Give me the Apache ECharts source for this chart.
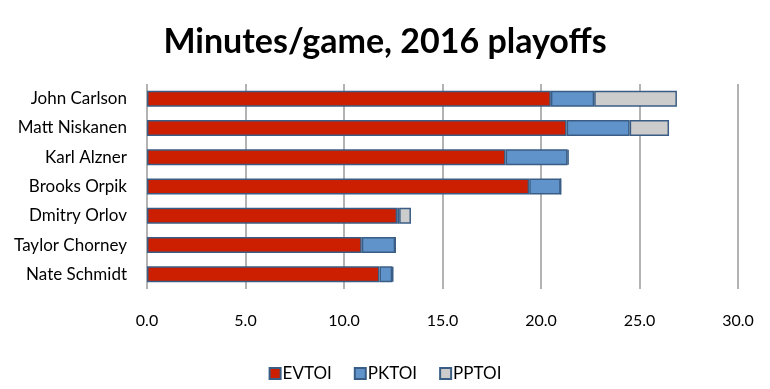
<!DOCTYPE html>
<html><head><meta charset="utf-8">
<script src="https://cdn.jsdelivr.net/npm/echarts@6/dist/echarts.min.js"></script>
<style>html,body{margin:0;padding:0;background:#fff}#c{width:770px;height:389px}</style>
</head><body><div id="c"></div>
<script>
const players = ["John Carlson","Matt Niskanen","Karl Alzner","Brooks Orpik","Dmitry Orlov","Taylor Chorney","Nate Schmidt"];
const evtoi = [20.5, 21.3, 18.2, 19.4, 12.7, 10.9, 11.8];
const pktoi = [2.2, 3.2, 3.15, 1.6, 0.1, 1.7, 0.65];
const pptoi = [4.2, 2.0, 0.05, 0, 0.6, 0, 0.05];
const xTicks = [0, 5, 10, 15, 20, 25, 30];
const seriesNames = ["EVTOI","PKTOI","PPTOI"];
const colors = ["#cc1e00","#5f93c9","#cccccc"];
const font = "Lato, 'Open Sans', sans-serif";
const chart = echarts.init(document.getElementById('c'));
const mk = (name, data, i) => ({
  name, type: 'bar', stack: 'tot', data,
  barWidth: 16,
  itemStyle: {color: colors[i], borderColor: '#3a5d85', borderWidth: 1.5},
  emphasis: {disabled: true}
});
chart.setOption({
  animation: false,
  title: {text: 'Minutes/game, 2016 playoffs', left: 'center', top: 20,
    textStyle: {fontFamily: font, fontSize: 34, fontWeight: 'bold', color: '#000'}},
  legend: {bottom: 2, left: 'center', itemWidth: 11, itemHeight: 11, itemGap: 22,
    icon: 'rect',
    textStyle: {fontFamily: font, fontSize: 17, color: '#000', padding: [0,0,0,-3]},
    data: seriesNames},
  grid: {left: 147, right: 32, top: 84, bottom: 100},
  xAxis: {type: 'value', min: xTicks[0], max: xTicks[xTicks.length-1], interval: 5,
    axisLine: {show: false}, axisTick: {show: false},
    splitLine: {lineStyle: {color: '#b3b3b3', width: 2}},
    axisLabel: {fontFamily: font, fontSize: 16, color: '#000', margin: 24,
      formatter: v => v.toFixed(1)}},
  yAxis: {type: 'category', data: players, inverse: true,
    axisLine: {show: false}, axisTick: {show: false},
    axisLabel: {fontFamily: font, fontSize: 17, color: '#000', margin: 20}},
  series: [mk(seriesNames[0], evtoi, 0), mk(seriesNames[1], pktoi, 1), mk(seriesNames[2], pptoi, 2)]
});
</script></body></html>
